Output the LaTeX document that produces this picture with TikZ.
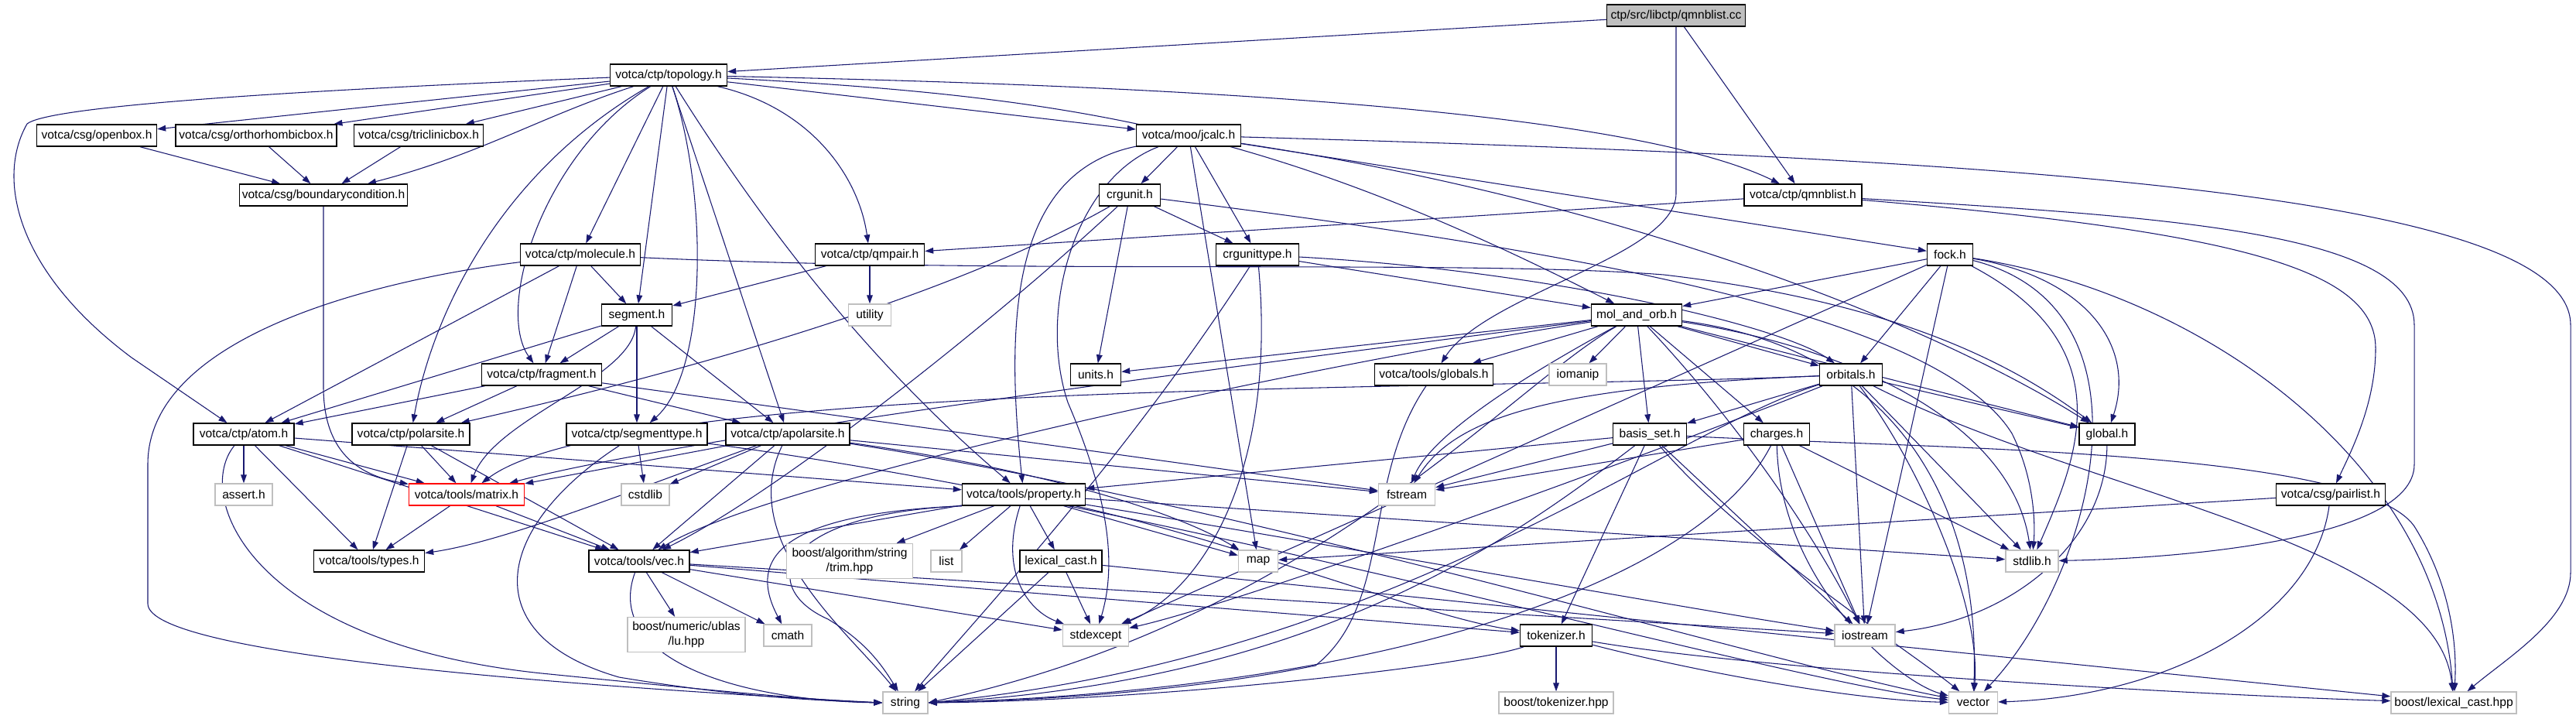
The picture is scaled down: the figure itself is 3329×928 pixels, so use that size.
\documentclass[tikz,border=0pt]{standalone}
\usepackage{fontspec}
\usetikzlibrary{arrows.meta,backgrounds}
\newfontfamily\lblfont{Liberation Sans}
\newcommand\lblf{\lblfont\fontsize{13.3}{15.5}\selectfont}
\definecolor{edgecol}{HTML}{191970}
\definecolor{graybd}{HTML}{BFBFBF}
\tikzset{
  box/.style={draw=black, line width=0.42mm, fill=white, minimum height=8.4mm, inner sep=0pt, font=\lblf, align=center},
  sys/.style={box, draw=graybd},
  wd/.style={minimum width=#1*0.3mm},
  e/.style={draw=edgecol, line width=0.32mm, -{Triangle[length=3.3mm,width=2.3mm]}}
}
\begin{document}
\begin{tikzpicture}[x=0.3mm,y=-0.3mm]
\useasboundingbox (0,0) rectangle (3329,928);
% nodes
\node[box,wd=179,fill=graybd] (qmncc) at (2166,20) {ctp/src/libctp/qmnblist.cc};
\node[box,wd=151] (topology) at (864,97) {votca/ctp/topology.h};
\node[box,wd=155] (openbox) at (125,175) {votca/csg/openbox.h};
\node[box,wd=208] (ortho) at (331,175) {votca/csg/orthorhombicbox.h};
\node[box,wd=167] (tricl) at (541,175) {votca/csg/triclinicbox.h};
\node[box,wd=135] (jcalc) at (1536,175) {votca/moo/jcalc.h};
\node[box,wd=217] (bc) at (418,252) {votca/csg/boundarycondition.h};
\node[box,wd=79] (crgunit) at (1460,252) {crgunit.h};
\node[box,wd=152] (qmnbh) at (2330,252) {votca/ctp/qmnblist.h};
\node[box,wd=155] (molecule) at (750,329) {votca/ctp/molecule.h};
\node[box,wd=141] (qmpair) at (1124,329) {votca/ctp/qmpair.h};
\node[box,wd=107] (crgtype) at (1625,329) {crgunittype.h};
\node[box,wd=59] (fock) at (2520,329) {fock.h};
\node[box,wd=91] (segment) at (823,407) {segment.h};
\node[sys,wd=55] (utility) at (1124,407) {utility};
\node[box,wd=117] (mao) at (2115,407) {mol\_and\_orb.h};
\node[box,wd=155] (fragment) at (700,484) {votca/ctp/fragment.h};
\node[box,wd=65] (units) at (1416,484) {units.h};
\node[box,wd=153] (globals) at (1853,484) {votca/tools/globals.h};
\node[sys,wd=74] (iomanip) at (2039,484) {iomanip};
\node[box,wd=81] (orbitals) at (2392,484) {orbitals.h};
\node[box,wd=130] (atom) at (315,561) {votca/ctp/atom.h};
\node[box,wd=152] (polarsite) at (531,561) {votca/ctp/polarsite.h};
\node[box,wd=182] (segtype) at (823,561) {votca/ctp/segmenttype.h};
\node[box,wd=160] (apolar) at (1018,561) {votca/ctp/apolarsite.h};
\node[box,wd=95] (basis) at (2132,561) {basis\_set.h};
\node[box,wd=85] (charges) at (2296,561) {charges.h};
\node[box,wd=72] (global) at (2723,561) {global.h};
\node[sys,wd=74] (assert) at (315,639) {assert.h};
\node[box,wd=149,draw=red] (matrix) at (603,639) {votca/tools/matrix.h};
\node[sys,wd=62] (cstdlib) at (834,639) {cstdlib};
\node[box,wd=159] (property) at (1323,639) {votca/tools/property.h};
\node[sys,wd=73] (fstream) at (1818,639) {fstream};
\node[box,wd=141] (pairlist) at (3012,639) {votca/csg/pairlist.h};
\node[box,wd=143] (types) at (477,725) {votca/tools/types.h};
\node[box,wd=130] (vec) at (826,725) {votca/tools/vec.h};
\node[sys,wd=163,minimum height=13.5mm] (trim) at (1098,725) {boost/algorithm/string\\/trim.hpp};
\node[sys,wd=40] (list) at (1223,725) {list};
\node[box,wd=106] (lexcast) at (1371,725) {lexical\_cast.h};
\node[sys,wd=51] (map) at (1626,725) {map};
\node[sys,wd=68] (stdlib) at (2626,725) {stdlib.h};
\node[sys,wd=152,minimum height=13.5mm] (lu) at (887,820) {boost/numeric/ublas\\/lu.hpp};
\node[sys,wd=62] (cmath) at (1018,821) {cmath};
\node[sys,wd=85] (stdexcept) at (1416,821) {stdexcept};
\node[box,wd=93] (tokenizer) at (2011,821) {tokenizer.h};
\node[sys,wd=78] (iostream) at (2410,821) {iostream};
\node[sys,wd=58] (string) at (1170,908) {string};
\node[sys,wd=148] (tokhpp) at (2011,908) {boost/tokenizer.hpp};
\node[sys,wd=63] (vector) at (2550,908) {vector};
\node[sys,wd=162] (lexhpp) at (3171,908) {boost/lexical\_cast.hpp};
% edges
\begin{scope}[on background layer]
% qmnblist.cc
\draw[e] (qmncc) -- (topology);
\draw[e] (qmncc) -- (qmnbh);
\draw[e] (qmncc) -- (2166,250) .. controls (2166,330) and (1920,380) .. (globals);
% topology
\draw[e] (topology) -- (openbox);
\draw[e] (topology) -- (ortho);
\draw[e] (topology) -- (tricl);
\draw[e] (topology) .. controls (700,150) and (620,200) .. (bc);
\draw[e] (topology) .. controls (300,120) and (60,140) .. (35,160) .. controls (-5,230) and (20,350) .. (170,462) -- (atom);
\draw[e] (topology) -- (molecule);
\draw[e] (topology) -- (segment);
\draw[e] (topology) .. controls (700,200) and (640,400) .. (fragment);
\draw[e] (topology) .. controls (650,220) and (560,400) .. (polarsite);
\draw[e] (topology) -- (apolar);
\draw[e] (topology) .. controls (915,250) and (915,480) .. (segtype);
\draw[e] (topology) .. controls (1050,140) and (1110,230) .. (qmpair);
\draw[e] (topology) .. controls (960,250) and (1100,450) .. (property);
\draw[e] (topology) -- (jcalc);
\draw[e] (topology) .. controls (1500,110) and (2100,140) .. (qmnbh);
\draw[e] (topology) .. controls (1400,125) and (1650,170) .. (mao);
% csg boxes
\draw[e] (openbox) -- (bc);
\draw[e] (ortho) -- (bc);
\draw[e] (tricl) -- (bc);
\draw[e] (bc) -- (418,500) .. controls (418,590) and (470,615) .. (matrix);
% jcalc
\draw[e] (jcalc) -- (crgunit);
\draw[e] (jcalc) -- (crgtype);
\draw[e] (jcalc) .. controls (1320,220) and (1295,380) .. (property);
\draw[e] (jcalc) .. controls (1390,230) and (1340,400) .. (1380,520) .. controls (1440,660) and (1440,740) .. (stdexcept);
\draw[e] (jcalc) -- (map);
\draw[e] (jcalc) -- (fock);
\draw[e] (jcalc) .. controls (2100,260) and (2500,420) .. (global);
\draw[e] (jcalc) .. controls (2600,205) and (3322,250) .. (3322,420) -- (3322,740) .. controls (3322,800) and (3240,850) .. (lexhpp);
% crgunit
\draw[e] (crgunit) -- (crgtype);
\draw[e] (crgunit) -- (units);
\draw[e] (crgunit) .. controls (1280,420) and (1000,640) .. (vec);
\draw[e] (crgunit) .. controls (1200,400) and (800,500) .. (polarsite);
\draw[e] (crgunit) .. controls (2000,320) and (2500,400) .. (2600,560) .. controls (2630,620) and (2630,680) .. (stdlib);
% crgunittype
\draw[e] (crgtype) -- (mao);
\draw[e] (crgtype) .. controls (2000,350) and (2300,420) .. (orbitals);
\draw[e] (crgtype) .. controls (1450,600) and (1260,800) .. (string);
\draw[e] (crgtype) .. controls (1650,600) and (1560,760) .. (stdexcept);
% qmnblist.h
\draw[e] (qmnbh) -- (qmpair);
\draw[e] (qmnbh) .. controls (2800,280) and (3120,300) .. (3120,420) -- (3120,600) .. controls (3120,700) and (2800,722) .. (stdlib);
\draw[e] (qmnbh) .. controls (2900,300) and (3070,350) .. (3070,450) .. controls (3070,520) and (3040,580) .. (pairlist);
% qmpair
\draw[e] (qmpair) -- (segment);
\draw[e] (qmpair) -- (utility);
% molecule
\draw[e] (molecule) -- (atom);
\draw[e] (molecule) -- (segment);
\draw[e] (molecule) -- (fragment);
\draw[e] (molecule) .. controls (500,360) and (191,430) .. (191,600) -- (191,780) .. controls (191,850) and (800,890) .. (string.west);
\draw[e] (molecule) .. controls (1300,355) and (1900,335) .. (2150,355) .. controls (2450,390) and (2600,470) .. (global);
% segment
\draw[e] (segment) -- (fragment);
\draw[e] (segment) -- (atom);
\draw[e] (segment) -- (segtype);
\draw[e] (segment) -- (apolar);
\draw[e] (segment) .. controls (815,490) and (640,540) .. (matrix);
% fragment
\draw[e] (fragment) -- (atom);
\draw[e] (fragment) -- (polarsite);
\draw[e] (fragment) -- (apolar);
\draw[e] (fragment) -- (fstream);
% atom
\draw[e] (atom) -- (assert);
\draw[e] (atom) -- (types);
\draw[e] (atom) -- (matrix);
\draw[e] (atom) -- (vec);
\draw[e] (atom) -- (property);
\draw[e] (atom) .. controls (250,640) and (320,830) .. (700,870) .. controls (900,890) and (1050,905) .. (string.west);
% polarsite
\draw[e] (polarsite) -- (types);
\draw[e] (polarsite) -- (matrix);
\draw[e] (polarsite) -- (vec);
% segmenttype
\draw[e] (segtype) -- (cstdlib);
\draw[e] (segtype) .. controls (640,680) and (610,820) .. (800,875) .. controls (950,900) and (1050,905) .. (string.west);
\draw[e] (segtype) .. controls (1500,650) and (2300,880) .. (vector);
% apolarsite
\draw[e] (apolar) -- (matrix);
\draw[e] (apolar) -- (cstdlib);
\draw[e] (apolar) -- (vec);
\draw[e] (apolar) .. controls (800,640) and (650,700) .. (types);
\draw[e] (apolar) .. controls (950,700) and (1100,820) .. (string);
\draw[e] (apolar) -- (fstream);
\draw[e] (apolar) .. controls (1300,600) and (1500,650) .. (map);
\draw[e] (apolar) .. controls (1600,650) and (2300,860) .. (vector);
% matrix
\draw[e] (matrix) -- (types);
\draw[e] (matrix) -- (vec);
% property
\draw[e] (property) -- (vec);
\draw[e] (property) -- (trim);
\draw[e] (property) -- (list);
\draw[e] (property) -- (lexcast);
\draw[e] (property) -- (map);
\draw[e] (property) .. controls (1290,740) and (1330,790) .. (stdexcept);
\draw[e] (property.south west) .. controls (1000,665) and (980,760) .. (1070,800) .. controls (1120,830) and (1140,860) .. (string);
\draw[e] (property.south west) .. controls (990,665) and (970,730) .. (cmath);
\draw[e] (property) .. controls (1700,700) and (2200,790) .. (iostream);
\draw[e] (property) .. controls (1600,700) and (1850,800) .. (tokenizer);
\draw[e] (property) -- (stdlib);
% lexical_cast.h
\draw[e] (lexcast) -- (string);
\draw[e] (lexcast) -- (stdexcept);
\draw[e] (lexcast) -- (lexhpp);
% vec
\draw[e] (vec) -- (lu);
\draw[e] (vec) -- (cmath);
\draw[e] (vec) -- (stdexcept);
\draw[e] (vec) .. controls (780,850) and (950,905) .. (string.west);
\draw[e] (vec) -- (iostream);
\draw[e] (vec) -- (tokenizer);
% mol_and_orb
\draw[e] (mao) -- (units);
\draw[e] (mao) -- (globals);
\draw[e] (mao) -- (iomanip);
\draw[e] (mao) -- (basis);
\draw[e] (mao) -- (charges);
\draw[e] (mao) -- (orbitals);
\draw[e] (mao) -- (global);
\draw[e] (mao) .. controls (1980,480) and (1850,560) .. (fstream);
\draw[e] (mao) .. controls (1950,500) and (1700,800) .. (string.east);
\draw[e] (mao) .. controls (1700,460) and (900,560) .. (matrix);
\draw[e] (mao) .. controls (1700,470) and (1000,620) .. (vec);
\draw[e] (mao) .. controls (2250,550) and (2350,700) .. (iostream);
\draw[e] (mao) .. controls (2400,450) and (2600,550) .. (stdlib);
\draw[e] (mao) .. controls (2450,450) and (2560,650) .. (vector);
% globals
\draw[e] (globals) .. controls (1760,620) and (1800,780) .. (1700,860) .. controls (1500,900) and (1300,905) .. (string.east);
% orbitals
\draw[e] (orbitals) -- (basis);
\draw[e] (orbitals) .. controls (2000,500) and (1880,540) .. (fstream);
\draw[e] (orbitals) .. controls (1900,505) and (800,490) .. (matrix);
\draw[e] (orbitals) .. controls (2150,560) and (1800,850) .. (string.east);
\draw[e] (orbitals) .. controls (2480,600) and (2560,780) .. (vector);
\draw[e] (orbitals) -- (iostream);
\draw[e] (orbitals) -- (stdlib);
\draw[e] (orbitals) -- (global);
\draw[e] (orbitals) .. controls (2700,640) and (3150,700) .. (lexhpp);
\draw[e] (orbitals) .. controls (2100,600) and (1600,780) .. (stdexcept);
% basis_set
\draw[e] (basis) -- (fstream);
\draw[e] (basis) -- (property);
\draw[e] (basis) -- (tokenizer);
\draw[e] (basis) -- (iostream);
\draw[e] (basis) .. controls (2250,700) and (2480,850) .. (vector);
\draw[e] (basis) .. controls (1950,700) and (1700,880) .. (string.east);
\draw[e] (basis) .. controls (2500,580) and (3050,580) .. (3120,680) .. controls (3170,760) and (3175,840) .. (lexhpp);
% charges
\draw[e] (charges) -- (fstream);
\draw[e] (charges) -- (iostream);
\draw[e] (charges) .. controls (2300,750) and (2450,880) .. (vector);
\draw[e] (charges) -- (stdlib);
\draw[e] (charges) .. controls (2200,750) and (1800,890) .. (string.east);
% fock
\draw[e] (fock) -- (mao);
\draw[e] (fock) -- (orbitals);
\draw[e] (fock) .. controls (2700,360) and (2760,450) .. (global);
\draw[e] (fock) .. controls (2800,400) and (2700,750) .. (vector);
\draw[e] (fock) .. controls (2750,450) and (2680,600) .. (stdlib);
\draw[e] (fock) .. controls (2850,380) and (3150,600) .. (lexhpp);
\draw[e] (fock) -- (stdexcept);
\draw[e] (fock) -- (iostream);
% global
\draw[e] (global) .. controls (2722,700) and (2600,800) .. (iostream);
% pairlist
\draw[e] (pairlist) -- (map);
\draw[e] (pairlist) .. controls (2990,800) and (2800,900) .. (vector);
% tokenizer
\draw[e] (tokenizer) -- (tokhpp);
\draw[e] (tokenizer) .. controls (1900,860) and (1500,905) .. (string.east);
\draw[e] (tokenizer) .. controls (2200,870) and (2400,905) .. (vector);
\draw[e] (tokenizer) .. controls (2300,870) and (2900,900) .. (lexhpp);
\end{scope}
\end{tikzpicture}
\end{document}
